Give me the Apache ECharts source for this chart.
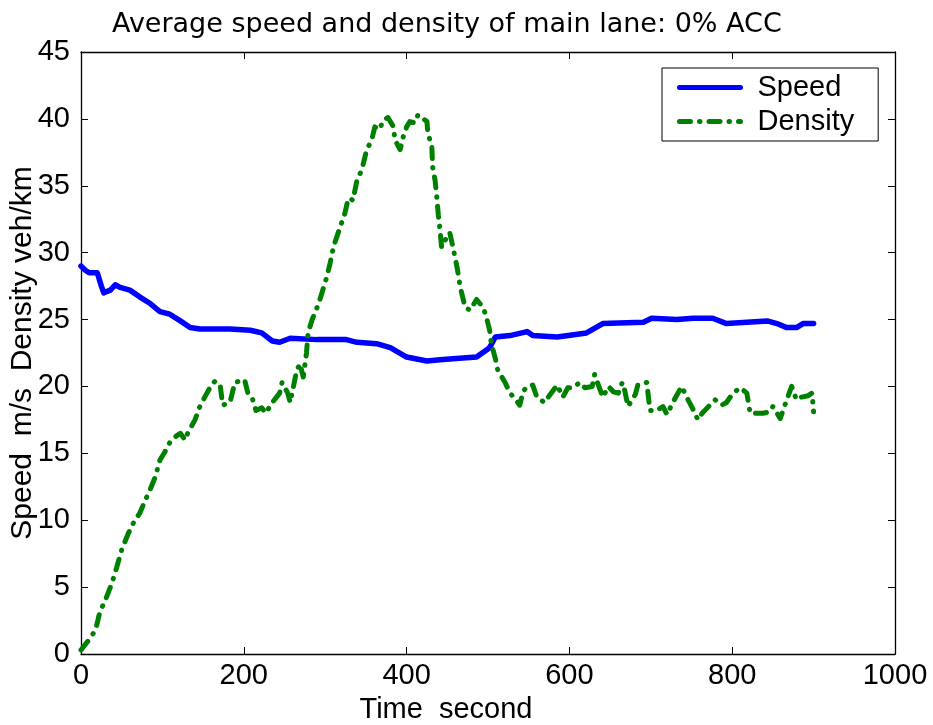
<!DOCTYPE html>
<html><head><meta charset="utf-8">
<script src="https://cdn.jsdelivr.net/npm/echarts@6/dist/echarts.min.js"></script>
<style>html,body{margin:0;padding:0;background:#fff}#c{width:933px;height:725px}</style>
</head><body><div id="c"></div>
<script>
var xTicks = [0, 200, 400, 600, 800, 1000];
var yTicks = [0, 5, 10, 15, 20, 25, 30, 35, 40, 45];

var speedTime = [0, 5, 10, 20, 25, 28, 36, 42, 48, 60, 72, 85, 97, 109, 122, 134, 146, 165, 183, 208, 222, 235, 244, 257, 290, 326, 339, 363, 380, 400, 425, 441, 465, 486, 502, 509, 527, 548, 555, 585, 621, 641, 691, 701, 732, 752, 776, 793, 818, 843, 855, 867, 879, 887, 900];
var speedValue = [29.0, 28.7, 28.5, 28.5, 27.5, 27.0, 27.2, 27.6, 27.4, 27.2, 26.7, 26.2, 25.6, 25.4, 24.9, 24.4, 24.3, 24.3, 24.3, 24.2, 24.0, 23.4, 23.3, 23.6, 23.5, 23.5, 23.3, 23.2, 22.9, 22.2, 21.9, 22.0, 22.1, 22.2, 22.9, 23.7, 23.8, 24.1, 23.8, 23.7, 24.0, 24.7, 24.8, 25.1, 25.0, 25.1, 25.1, 24.7, 24.8, 24.9, 24.7, 24.4, 24.4, 24.7, 24.7];

var densityTime = [0, 9, 18, 23, 31, 38, 44, 50, 58, 66, 72, 79, 85, 91, 97, 103, 109, 115, 122, 128, 131, 140, 146, 152, 161, 165, 171, 174, 183, 189, 201, 205, 210, 215, 222, 227, 235, 244, 247, 254, 257, 265, 269, 273, 277, 279, 284, 290, 294, 302, 306, 310, 316, 324, 327, 330, 334, 339, 345, 351, 357, 361, 367, 371, 377, 383, 386, 392, 396, 400, 404, 410, 414, 425, 426, 431, 432, 435, 437, 439, 441, 443, 448, 453, 457, 462, 466, 472, 478, 486, 494, 498, 502, 504, 509, 512, 521, 527, 533, 539, 543, 548, 555, 560, 564, 570, 574, 580, 585, 592, 598, 604, 613, 619, 628, 631, 638, 641, 648, 654, 660, 665, 668, 672, 681, 684, 695, 699, 707, 715, 720, 727, 738, 744, 751, 758, 763, 771, 779, 787, 793, 801, 810, 818, 822, 830, 838, 846, 850, 859, 867, 873, 879, 885, 893, 898, 900];
var densityValue = [0.3, 1.0, 1.8, 3.1, 4.2, 5.3, 6.5, 7.8, 9.0, 10.0, 10.5, 11.5, 12.3, 13.2, 14.5, 15.1, 15.8, 16.2, 16.5, 16.0, 16.5, 17.5, 18.5, 19.2, 20.2, 20.4, 20.1, 18.6, 18.8, 20.3, 20.5, 19.5, 19.2, 18.2, 18.4, 18.0, 18.8, 19.5, 20.3, 19.5, 18.8, 21.2, 21.7, 20.7, 22.5, 24.0, 25.0, 25.9, 26.6, 28.2, 29.2, 30.4, 31.5, 32.9, 33.7, 34.1, 33.9, 35.4, 36.2, 37.7, 38.4, 39.4, 39.2, 39.9, 40.1, 39.5, 38.4, 37.7, 38.7, 39.4, 39.8, 39.7, 40.3, 39.8, 39.0, 37.9, 36.4, 35.4, 34.2, 32.8, 31.7, 30.4, 31.0, 31.5, 30.4, 28.9, 27.4, 25.9, 25.7, 26.5, 25.9, 25.2, 24.2, 23.2, 22.1, 21.2, 20.3, 19.5, 19.1, 18.6, 19.6, 20.0, 20.1, 19.2, 19.0, 18.8, 19.2, 19.7, 20.1, 19.2, 19.9, 19.9, 20.3, 19.9, 20.0, 20.9, 19.7, 19.2, 20.0, 19.6, 19.5, 20.3, 19.7, 18.5, 19.4, 20.1, 20.3, 18.2, 18.2, 18.5, 17.9, 18.8, 20.0, 19.2, 18.4, 17.5, 18.0, 18.5, 19.0, 18.6, 18.8, 19.5, 19.9, 19.5, 18.0, 18.0, 18.0, 18.1, 18.5, 17.6, 19.0, 20.0, 19.0, 19.2, 19.3, 19.5, 18.1];

function pairs(t, v) { return t.map(function (x, i) { return [x, v[i]]; }); }

var FONT = '"Liberation Sans", Arial, sans-serif';
var chart = echarts.init(document.getElementById('c'), null, { renderer: 'canvas' });
var axisLine = { show: true, onZero: false, lineStyle: { color: '#000', width: 1.3 } };
var tick = { show: true, inside: true, length: 7, lineStyle: { color: '#000', width: 1 } };
chart.setOption({
  animation: false,
  backgroundColor: '#fff',
  title: {
    text: 'Average speed and density of main lane: 0% ACC',
    left: 107, top: 6,
    textStyle: { fontFamily: '"DejaVu Sans", sans-serif', fontSize: 27, fontWeight: 'normal', color: '#000' }
  },
  grid: { left: 81, right: 38, top: 52, bottom: 71, containLabel: false, outerBoundsMode: 'none' },
  legend: {
    orient: 'vertical',
    left: 662, top: 68,
    padding: [5, 24, 5, 15],
    itemGap: 5,
    itemWidth: 61, itemHeight: 14,
    backgroundColor: '#fff',
    borderColor: '#000', borderWidth: 1, borderRadius: 0,
    itemStyle: { opacity: 0 },
    lineStyle: { width: 5 },
    textStyle: { fontFamily: FONT, fontSize: 29, color: '#000', padding: [0, 0, 0, 12] },
    data: ['Speed', 'Density']
  },
  xAxis: [{
    type: 'value', min: 0, max: 1000, interval: 200, position: 'bottom',
    name: 'Time  second', nameLocation: 'middle', nameGap: 41, nameMoveOverlap: false,
    nameTextStyle: { fontFamily: FONT, fontSize: 29, color: '#000', padding: [0, 84, 0, 0] },
    axisLine: axisLine, axisTick: tick, splitLine: { show: false },
    axisLabel: { fontFamily: FONT, fontSize: 29, color: '#000', margin: 7,
      formatter: function (v) { return xTicks.indexOf(v) >= 0 ? String(v) : ''; } }
  }, {
    type: 'value', min: 0, max: 1000, interval: 200, position: 'top',
    axisLine: axisLine, axisTick: tick, splitLine: { show: false }, axisLabel: { show: false }
  }],
  yAxis: [{
    type: 'value', min: 0, max: 45, interval: 5, position: 'left',
    name: 'Speed  m/s  Density veh/km', nameLocation: 'middle', nameGap: 43, nameMoveOverlap: false,
    nameTextStyle: { fontFamily: FONT, fontSize: 30, color: '#000' },
    axisLine: axisLine, axisTick: tick, splitLine: { show: false },
    axisLabel: { fontFamily: FONT, fontSize: 29, color: '#000', margin: 11,
      formatter: function (v) { return yTicks.indexOf(v) >= 0 ? String(v) : ''; } }
  }, {
    type: 'value', min: 0, max: 45, interval: 5, position: 'right',
    axisLine: axisLine, axisTick: tick, splitLine: { show: false }, axisLabel: { show: false }
  }],
  series: [{
    name: 'Speed', type: 'line', xAxisIndex: 0, yAxisIndex: 0,
    data: pairs(speedTime, speedValue),
    showSymbol: false, symbol: 'none', smooth: false,
    lineStyle: { color: '#0000ff', width: 5.5, cap: 'round', join: 'round' },
    itemStyle: { color: '#0000ff' }
  }, {
    name: 'Density', type: 'line', xAxisIndex: 0, yAxisIndex: 0,
    data: pairs(densityTime, densityValue),
    showSymbol: false, symbol: 'none', smooth: false,
    lineStyle: { color: '#008000', width: 5, type: [11, 9, 0.5, 9], cap: 'round', join: 'round' },
    itemStyle: { color: '#008000' }
  }]
});
</script>
</body></html>
